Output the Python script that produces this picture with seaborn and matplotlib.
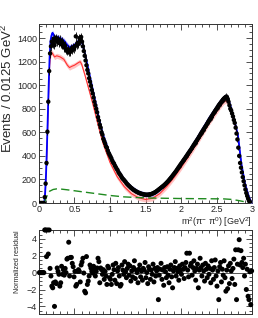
import numpy as np
import pandas as pd
import matplotlib
matplotlib.use("Agg")
import matplotlib.pyplot as plt
import seaborn as sns
from matplotlib.ticker import MultipleLocator

# ---------------- data ----------------
bin_width = 0.0125
bin_centers = [round(0.00625 + bin_width * i, 5) for i in range(240)]

events = [
    0, 0, 0, 0, 0, 0, 50, 165,
    340, 605, 860, 1120, 1270, 1330, 1370, 1350,
    1395, 1340, 1385, 1400, 1370, 1390, 1360, 1385,
    1350, 1370, 1340, 1355, 1320, 1335, 1300, 1290,
    1305, 1280, 1295, 1285, 1310, 1300, 1320, 1310,
    1330, 1415, 1340, 1360, 1350, 1400, 1380, 1410,
    1370, 1330, 1290, 1250, 1210, 1170, 1130, 1100,
    1060, 1030, 995, 960, 930, 895, 860, 830,
    800, 770, 730, 700, 665, 640, 600, 580,
    545, 525, 505, 480, 470, 445, 425, 410,
    395, 380, 360, 345, 335, 318, 305, 290,
    280, 262, 250, 240, 228, 215, 205, 198,
    188, 180, 168, 160, 152, 145, 138, 130,
    125, 118, 112, 108, 102, 98, 94, 90,
    86, 84, 80, 78, 76, 74, 72, 71,
    70, 70, 70, 71, 72, 74, 76, 79,
    82, 86, 90, 95, 100, 106, 112, 118,
    124, 130, 136, 142, 148, 155, 162, 170,
    178, 186, 195, 204, 213, 222, 232, 242,
    252, 262, 272, 283, 294, 305, 316, 327,
    338, 348, 360, 370, 380, 392, 402, 414,
    425, 436, 447, 458, 470, 482, 494, 505,
    517, 528, 540, 552, 565, 577, 590, 602,
    614, 626, 638, 650, 662, 675, 688, 700,
    712, 724, 736, 748, 760, 772, 784, 795,
    806, 818, 830, 840, 850, 860, 870, 880,
    888, 895, 900, 898, 885, 860, 830, 800,
    785, 760, 735, 705, 680, 640, 590, 540,
    470, 400, 340, 300, 260, 220, 185, 150,
    115, 85, 60, 38, 20, 8, 2, 0,
]

residuals = [
    0, 0, 0, 0, 0, 0, 5.05, 5.05,
    1.9, 5.05, 2.2, 5.05, 0.5, -0.4, -1.6, -1.8,
    -1.2, -4.0, -1.1, -1.3, 0.55, 0.15, -0.2, -1.6,
    -1.2, 0.75, -0.2, 0.35, -0.3, 0.5, 0.0, 1.6,
    1.7, 3.6, -0.4, 1.8, 1.8, 1.1, 0.7, -0.5,
    0.15, -1.6, -1.4, 0.15, 0.35, 0.15, -1.1, 0.9,
    1.25, 1.7, -0.05, -2.2, -2.4, 1.9, -1.4, -1.0,
    -0.4, 0.9, 0.55, 0.15, -0.05, 0.75, 0.35, -0.4,
    0.15, 0.55, 1.7, 1.3, -1.2, 0.55, 0.35, -0.2,
    0.35, -0.8, 0.15, -0.4, -1.4, 0.75, 0.55, -0.6,
    -0.8, -1.4, -0.2, 0.9, 0.35, -0.9, 1.1, -1.3,
    0.2, 0.6, -0.4, -1.6, -1.4, 0.9, 0.3, -0.2,
    1.3, 0.1, -0.6, 0.5, 1.0, -0.3, 0.8, -1.0,
    0.2, -0.5, 0.6, 1.4, -0.7, 0.3, 0.0, -1.2,
    0.4, 0.9, -0.5, 0.2, -0.9, 0.5, 0.3, 1.2,
    -0.6, 0.0, -1.3, 0.7, 0.4, -0.8, 0.3, -0.2,
    1.0, -1.1, 0.5, -0.4, 0.2, 0.6, -3.2, -0.3,
    0.4, 1.1, -0.8, 0.3, -1.5, 0.6, 0.1, -0.6,
    0.7, -0.3, -1.2, 0.4, 0.9, -0.5, -1.8, 0.2,
    0.6, 1.3, -0.4, 0.5, 0.1, -0.9, 0.8, 0.3,
    -0.2, 1.0, 0.4, -0.7, 0.6, 1.2, 2.3, 0.3,
    -0.5, 2.3, 0.8, 1.1, -0.3, 0.6, 1.4, 0.2,
    -0.9, 0.5, 1.0, -1.8, 0.3, 1.7, 0.6, -0.4,
    0.9, 0.2, -1.0, 1.1, 0.4, -0.6, 0.8, -0.2,
    0.5, -1.2, 1.4, 0.3, -0.8, 0.6, 1.5, -0.4,
    -1.6, 0.2, -3.2, 0.7, 1.2, -1.1, 0.4, -0.3,
    1.4, -0.6, -2.2, 0.3, -1.9, 0.8, -1.3, 1.1,
    0.2, -0.7, 0.5, 1.6, -1.4, 2.7, -3.2, 1.0,
    2.7, 3.9, 0.9, 2.6, 1.2, 0.6, 1.7, -0.4,
    1.0, -2.0, 0.4, -2.8, -3.2, 0.1, -3.8, 0.2,
]

fit_x = [0.075, 0.0875, 0.1, 0.1125, 0.125, 0.1375, 0.15, 0.1625, 0.175, 0.19,
         0.2, 0.22, 0.25, 0.3, 0.35, 0.4, 0.43, 0.46, 0.5, 0.55,
         0.58, 0.6, 0.62, 0.65, 0.7, 0.75, 0.8, 0.85, 0.9, 1.0,
         1.1, 1.2, 1.3, 1.4, 1.5, 1.6, 1.7, 1.8, 1.9, 2.0,
         2.1, 2.2, 2.3, 2.4, 2.5, 2.55, 2.6, 2.63, 2.66, 2.7,
         2.75, 2.8, 2.85, 2.9, 2.95, 2.98, 3.0]
total_fit = [0, 90, 250, 480, 740, 1010, 1240, 1375, 1420, 1445,
             1435, 1405, 1410, 1400, 1380, 1340, 1322, 1330, 1342, 1372,
             1392, 1378, 1332, 1262, 1122, 982, 842, 702, 582, 412,
             290, 195, 130, 90, 72, 78, 120, 180, 255, 340,
             430, 525, 625, 725, 815, 860, 895, 905, 890, 815,
             700, 580, 330, 165, 60, 15, 0]
signal_fit = [0, 80, 230, 430, 690, 950, 1170, 1250, 1280, 1270,
              1260, 1240, 1250, 1240, 1220, 1170, 1150, 1160, 1170, 1190,
              1200, 1180, 1140, 1080, 970, 860, 740, 620, 510, 345,
              225, 140, 80, 45, 30, 40, 80, 140, 215, 300,
              390, 485, 585, 685, 775, 820, 858, 868, 858, 795,
              685, 565, 322, 160, 58, 14, 0]

bkg_x = [0.075, 0.1, 0.125, 0.15, 0.2, 0.25, 0.3, 0.4, 0.5, 0.6, 0.7, 0.8,
         0.9, 1.0, 1.2, 1.4, 1.6, 1.8, 2.0, 2.2, 2.4, 2.6, 2.7, 2.8, 2.9, 3.0]
bkg_fit = [0, 40, 80, 100, 115, 120, 119, 112, 104, 96, 88, 80,
           72, 64, 52, 46, 42, 40, 38, 37, 36, 35, 31, 22, 10, 0]

assert len(events) == 240 and len(residuals) == 240

df = pd.DataFrame({"m2": bin_centers, "events": events, "res": residuals})
df["err"] = np.sqrt(df["events"])
fit_df = pd.DataFrame({"m2": fit_x, "total": total_fit, "signal": signal_fit})
bkg_df = pd.DataFrame({"m2": bkg_x, "bkg": bkg_fit})

# ---------------- style ----------------
sns.set_style("ticks")
plt.rcParams["font.family"] = ["Liberation Sans", "DejaVu Sans"]
plt.rcParams["mathtext.fontset"] = "custom"
plt.rcParams["mathtext.rm"] = "Liberation Sans"
plt.rcParams["mathtext.it"] = "Liberation Sans:italic"
plt.rcParams["mathtext.default"] = "regular"

fig = plt.figure(figsize=(2.58, 3.18), dpi=100)
ax = fig.add_axes([0.151, 0.3616, 0.826, 0.563])
axr = fig.add_axes([0.151, 0.0126, 0.826, 0.2642])

# ---------------- top panel ----------------
ax.fill_between(fit_df["m2"], fit_df["signal"] - 22, fit_df["signal"] + 22,
                color="#ff9c9c", alpha=0.6, lw=0, zorder=1)
sns.lineplot(data=fit_df, x="m2", y="signal", ax=ax, color="#ff3030",
             lw=0.8, zorder=2)
ax.fill_between(fit_df["m2"], fit_df["total"] - 22, fit_df["total"] + 22,
                color="#7d7dff", alpha=0.6, lw=0, zorder=3)
sns.lineplot(data=fit_df, x="m2", y="total", ax=ax, color="#0000ff",
             lw=1.3, zorder=4)
sns.lineplot(data=bkg_df, x="m2", y="bkg", ax=ax, color="#1f8a1f",
             lw=1.0, dashes=False, zorder=4, linestyle=(0, (6, 3)))
ax.errorbar(df["m2"], df["events"], yerr=df["err"], fmt="none",
            ecolor="black", elinewidth=0.6, zorder=5)
sns.scatterplot(data=df, x="m2", y="events", ax=ax, color="black",
                s=10, edgecolor="none", zorder=6)

ax.set_xlim(0, 3)
ax.set_ylim(0, 1520)
ax.xaxis.set_major_locator(MultipleLocator(0.5))
ax.xaxis.set_minor_locator(MultipleLocator(0.1))
ax.yaxis.set_major_locator(MultipleLocator(200))
ax.yaxis.set_minor_locator(MultipleLocator(50))
ax.set_xticks([0, 0.5, 1, 1.5, 2, 2.5, 3])
ax.set_xticklabels(["0", "0.5", "1", "1.5", "2", "2.5", "3"])
ax.tick_params(which="both", direction="in", top=True, right=True,
               labelsize=6.5, pad=1.5, width=0.6, color="#333333")
ax.tick_params(which="major", length=4)
ax.tick_params(which="minor", length=2)
ax.set_xlabel(r"m$^{2}$(π$^{-}$ π$^{0}$) [GeV$^{2}$]", fontsize=6.5,
              loc="right", labelpad=1)
ax.set_ylabel(r"Events / 0.0125 GeV$^{2}$", fontsize=9.5, loc="top",
              labelpad=1)
for s in ax.spines.values():
    s.set_linewidth(0.7)
    s.set_color("#333333")

# ---------------- residual panel ----------------
axr.axhline(0, color="#555555", lw=0.7, zorder=1)
sns.scatterplot(data=df, x="m2", y="res", ax=axr, color="black", s=13,
                edgecolor="none", zorder=3, clip_on=False)
axr.set_xlim(0, 3)
axr.set_ylim(-4.9, 5.05)
axr.xaxis.set_major_locator(MultipleLocator(0.5))
axr.xaxis.set_minor_locator(MultipleLocator(0.1))
axr.yaxis.set_major_locator(MultipleLocator(2))
axr.yaxis.set_minor_locator(MultipleLocator(0.5))
axr.set_yticks([-4, -2, 0, 2, 4])
axr.tick_params(which="both", direction="in", top=True, right=True,
                labelsize=6.5, pad=1.5, width=0.6, color="#333333",
                labelbottom=False)
axr.tick_params(which="major", length=4)
axr.tick_params(which="minor", length=2)
axr.set_xlabel("")
axr.set_ylabel("Normalized residual", fontsize=5, loc="top", labelpad=4)
for s in axr.spines.values():
    s.set_linewidth(0.7)
    s.set_color("#333333")

fig.savefig("out.png", dpi=100)
